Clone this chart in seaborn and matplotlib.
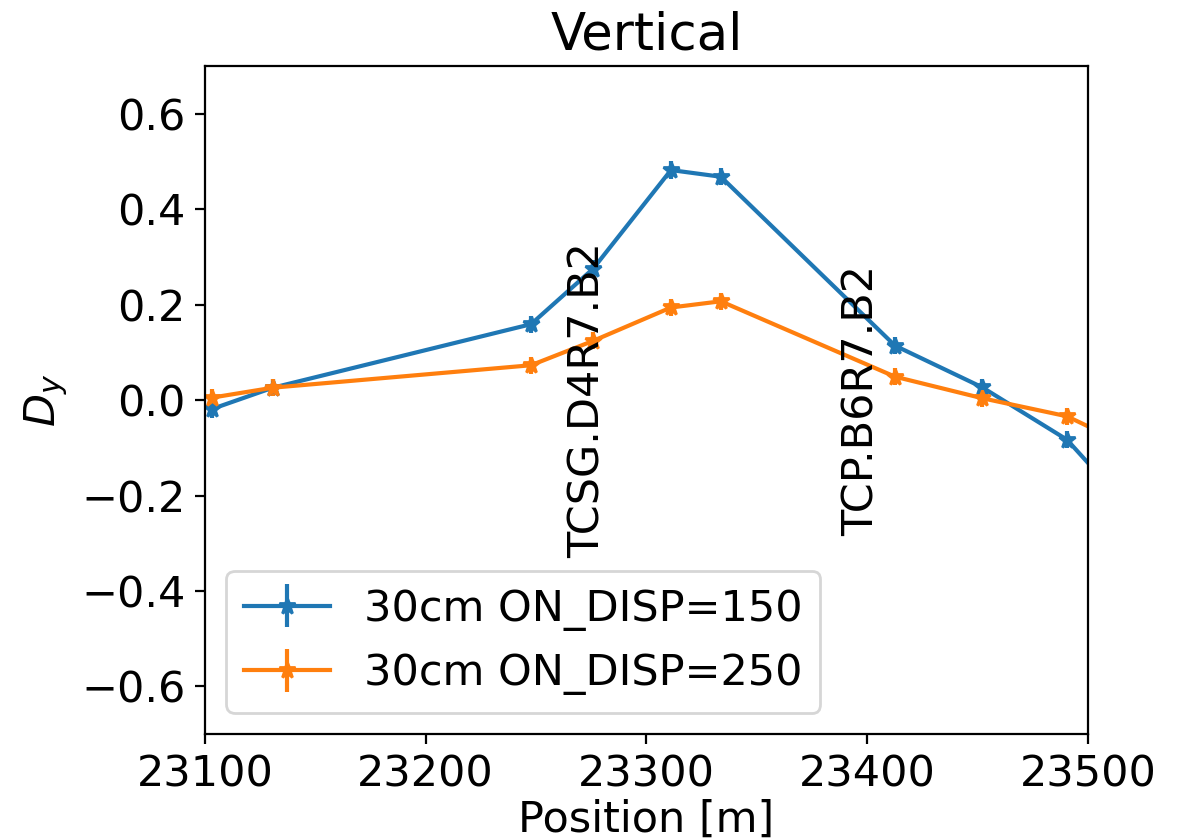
import numpy as np
import matplotlib
matplotlib.use("Agg")
import matplotlib.pyplot as plt
import seaborn as sns

# Data
pos = [23103, 23130.8, 23247.7, 23275.8, 23311.1, 23333.7, 23412.6, 23452, 23490.5, 23530]
dy_150 = [-0.019, 0.026, 0.159, 0.275, 0.482, 0.468, 0.114, 0.027, -0.083, -0.285]
dy_250 = [0.005, 0.026, 0.073, 0.124, 0.194, 0.207, 0.049, 0.004, -0.034, -0.121]
err_150 = [0.018] * len(pos)
err_250 = [0.018] * len(pos)
labels = ["30cm ON_DISP=150", "30cm ON_DISP=250"]
coll_names = ["TCSG.D4R7.B2", "TCP.B6R7.B2"]
coll_pos = [23273.5, 23397.5]

plt.rcParams.update(plt.rcParamsDefault)
sns.set_palette("tab10")
plt.rcParams["font.size"] = 15.5
plt.rcParams["font.family"] = ["DejaVu Sans"]

fig, ax = plt.subplots(figsize=(5.9, 4.195), dpi=200)
fig.subplots_adjust(left=0.1737, right=0.922, bottom=0.125, top=0.9213)

pal = sns.color_palette("tab10")
ax.errorbar(pos, dy_150, yerr=err_150, marker="*", markersize=6, color=pal[0], label=labels[0])
ax.errorbar(pos, dy_250, yerr=err_250, marker="*", markersize=6, color=pal[1], label=labels[1])

for name, xp in zip(coll_names, coll_pos):
    ax.text(xp, 0.0, name, rotation=90, ha="center", va="center", fontsize=15.5)

ax.set_xlim(23100, 23500)
ax.set_ylim(-0.7, 0.7)
ax.set_xticks([23100, 23200, 23300, 23400, 23500])
ax.set_yticks([-0.6, -0.4, -0.2, 0.0, 0.2, 0.4, 0.6])
ax.set_xlabel("Position [m]", labelpad=1)
ax.set_ylabel(r"$D_y$")
ax.set_title("Vertical", fontsize=18.5)
ax.legend(loc="lower left")

fig.savefig("out.png", dpi=200)
